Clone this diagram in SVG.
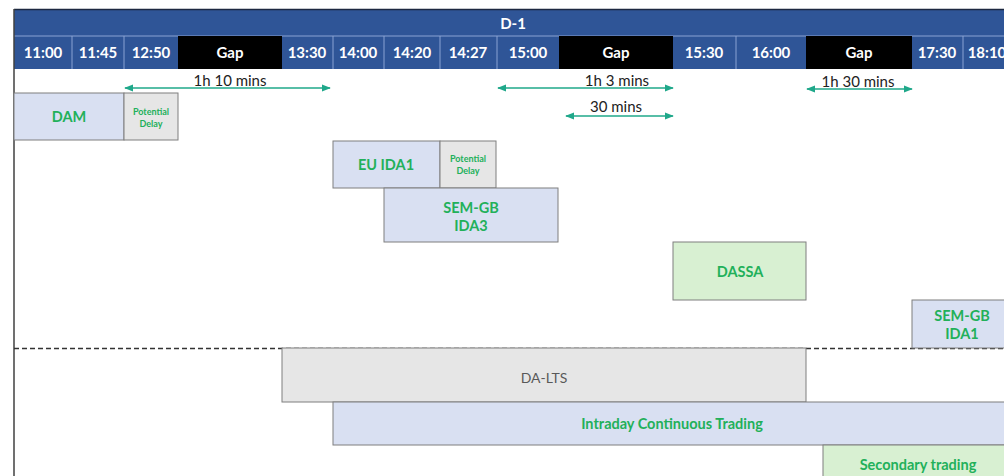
<svg xmlns="http://www.w3.org/2000/svg" width="1004" height="476" viewBox="0 0 1004 476">
<defs>
<marker id="ah" viewBox="0 0 10 10" refX="9" refY="5" markerWidth="9" markerHeight="9" orient="auto-start-reverse" markerUnits="userSpaceOnUse">
<path d="M0,1 L10,5 L0,9 Z" fill="#1fa88a"/>
</marker>
<style>
.hd{fill:#2f5597}
.gap{fill:#000}
.sep{stroke:#8aa3d3;stroke-width:1}
.ht{font-family:Lato,"Liberation Sans",sans-serif;font-weight:bold;font-size:15px;fill:#fff;text-anchor:middle}
.blue{fill:#d9e0f2;stroke:#7f7f7f;stroke-width:1}
.grey{fill:#e6e6e6;stroke:#7f7f7f;stroke-width:1}
.green{fill:#d8f0d2;stroke:#7f7f7f;stroke-width:1}
.lb{font-family:Lato,"Liberation Sans",sans-serif;font-weight:bold;font-size:14.5px;fill:#22b05a;text-anchor:middle}
.sm{font-family:Lato,"Liberation Sans",sans-serif;font-weight:bold;font-size:9px;fill:#22b05a;text-anchor:middle}
.gl{font-family:Lato,"Liberation Sans",sans-serif;font-size:14px;fill:#595959;text-anchor:middle}
.at{font-family:Lato,"Liberation Sans",sans-serif;font-size:15px;fill:#222;text-anchor:middle}
.arr{stroke:#1fa88a;stroke-width:1.3;fill:none;marker-start:url(#ah);marker-end:url(#ah)}
</style>
</defs>
<rect width="1004" height="476" fill="#fff"/>
<g id="header">
<rect class="hd" x="14" y="9" width="990" height="60"/>
<line x1="14" y1="9.5" x2="1004" y2="9.5" stroke="#1c2840" stroke-width="1.5"/>
<line class="sep" x1="14" y1="36" x2="1004" y2="36"/>
<text x="513" y="29" class="ht" font-size="17">D-1</text>
<rect class="gap" x="178" y="36" width="104" height="33"/>
<rect class="gap" x="559" y="36" width="114" height="33"/>
<rect class="gap" x="806" y="36" width="106" height="33"/>
<g class="sep">
<line x1="72" y1="36" x2="72" y2="69"/><line x1="124" y1="36" x2="124" y2="69"/>
<line x1="333" y1="36" x2="333" y2="69"/><line x1="384" y1="36" x2="384" y2="69"/>
<line x1="440" y1="36" x2="440" y2="69"/><line x1="497" y1="36" x2="497" y2="69"/>
<line x1="736" y1="36" x2="736" y2="69"/><line x1="963" y1="36" x2="963" y2="69"/>
</g>
<text class="ht" x="43" y="58">11:00</text>
<text class="ht" x="98" y="58">11:45</text>
<text class="ht" x="151" y="58">12:50</text>
<text class="ht" x="230" y="58">Gap</text>
<text class="ht" x="307" y="58">13:30</text>
<text class="ht" x="358" y="58">14:00</text>
<text class="ht" x="412" y="58">14:20</text>
<text class="ht" x="468" y="58">14:27</text>
<text class="ht" x="528" y="58">15:00</text>
<text class="ht" x="616" y="58">Gap</text>
<text class="ht" x="704" y="58">15:30</text>
<text class="ht" x="771" y="58">16:00</text>
<text class="ht" x="859" y="58">Gap</text>
<text class="ht" x="937" y="58">17:30</text>
<text class="ht" x="987" y="58">18:10</text>
</g>
<line x1="14" y1="9" x2="14" y2="476" stroke="#404040" stroke-width="1.5"/>
<line x1="14" y1="348.5" x2="1004" y2="348.5" stroke="#333" stroke-width="1.6" stroke-dasharray="5,3"/>
<g id="connectors">
<line class="arr" x1="125" y1="88" x2="330" y2="88"/>
<line class="arr" x1="498" y1="88" x2="673" y2="88"/>
<line class="arr" x1="566" y1="116" x2="673" y2="116"/>
<line class="arr" x1="807" y1="89" x2="912" y2="89"/>
<text class="at" x="230" y="86">1h 10 mins</text>
<text class="at" x="617" y="86">1h 3 mins</text>
<text class="at" x="616" y="112">30 mins</text>
<text class="at" x="858" y="87">1h 30 mins</text>
</g>
<g id="dam"><rect class="blue" x="14" y="93" width="110" height="47"/><text class="lb" x="69" y="122">DAM</text></g>
<g id="dam-delay"><rect class="grey" x="124" y="93" width="54" height="47"/><text class="sm" x="151" y="115">Potential</text><text class="sm" x="151" y="127">Delay</text></g>
<g id="eu-ida1"><rect class="blue" x="333" y="141" width="107" height="47"/><text class="lb" x="386" y="170">EU IDA1</text></g>
<g id="eu-ida1-delay"><rect class="grey" x="440" y="141" width="56" height="47"/><text class="sm" x="468" y="162">Potential</text><text class="sm" x="468" y="174">Delay</text></g>
<g id="sem-gb-ida3"><rect class="blue" x="384" y="188" width="174" height="54"/><text class="lb" x="471" y="213">SEM-GB</text><text class="lb" x="471" y="231">IDA3</text></g>
<g id="dassa"><rect class="green" x="673" y="242" width="133" height="58"/><text class="lb" x="740" y="277">DASSA</text></g>
<g id="sem-gb-ida1"><rect class="blue" x="912" y="300" width="100" height="48"/><text class="lb" x="962" y="321">SEM-GB</text><text class="lb" x="962" y="339">IDA1</text></g>
<g id="da-lts"><rect class="grey" x="282" y="348" width="524" height="54"/><text class="gl" x="544" y="383">DA-LTS</text></g>
<g id="intraday"><rect class="blue" x="333" y="402" width="680" height="43"/><text class="lb" x="672" y="429">Intraday Continuous Trading</text></g>
<g id="secondary"><rect class="green" x="823" y="445" width="190" height="40"/><text class="lb" x="918" y="470">Secondary trading</text></g>
</svg>
